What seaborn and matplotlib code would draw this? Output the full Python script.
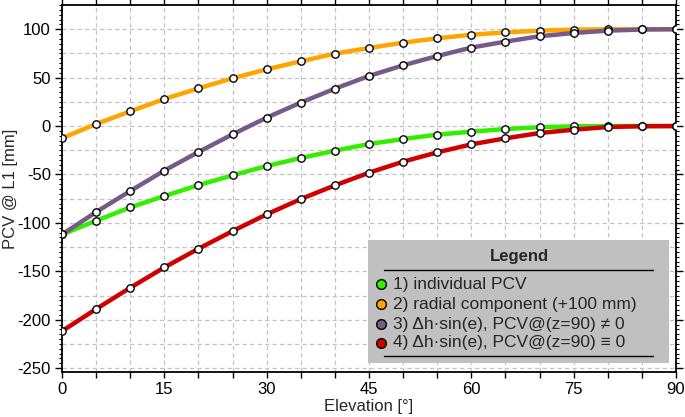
import numpy as np
import pandas as pd
import matplotlib
matplotlib.use("Agg")
import matplotlib.pyplot as plt
import seaborn as sns
from matplotlib.ticker import MultipleLocator
from matplotlib.patches import Rectangle
from matplotlib.lines import Line2D

# ---- data ----
elevation = [0, 5, 10, 15, 20, 25, 30, 35, 40, 45, 50, 55, 60, 65, 70, 75, 80, 85, 90]
pcv_individual = [-112, -97.8, -84, -72.3, -61, -50.9, -41.3, -33, -25.4, -18.6,
                  -13.4, -8.9, -5.8, -3.1, -1.2, -0.3, 0, 0, 0]
radial_component = [-12.5, 2.1, 15.2, 27.9, 38.9, 49.3, 58.6, 66.8, 74.8, 80.6,
                    86.1, 90.6, 94.3, 96.7, 98.5, 99.6, 99.9, 100, 100]
dh_sin_nonzero = [-112, -88.8, -67.1, -46, -26.8, -8.6, 8.7, 24.2, 38.6, 51.7,
                  62.7, 72.3, 81, 87.2, 92.7, 96.1, 98.5, 99.7, 100]
dh_sin_zero = [-211.8, -189, -167, -146, -126.7, -108.5, -91.2, -75.4, -61.3, -48.2,
               -36.8, -27.2, -18.9, -12.7, -7.2, -3.8, -1, -0.2, 0]

series_labels = ["1) individual PCV",
                 "2) radial component (+100 mm)",
                 "3) \u0394h\u00b7sin(e), PCV@(z=90) \u2260 0",
                 "4) \u0394h\u00b7sin(e), PCV@(z=90) \u2261 0"]
series_colors = ["#33ee00", "#ffa500", "#785a88", "#d00000"]

df = pd.concat([
    pd.DataFrame({"elev": elevation, "pcv": vals, "series": lab})
    for vals, lab in zip([pcv_individual, radial_component, dh_sin_nonzero, dh_sin_zero],
                         series_labels)
], ignore_index=True)

sns.set_theme(style="white")
plt.rcParams["font.family"] = ["Liberation Sans", "DejaVu Sans"]
plt.rcParams["axes.unicode_minus"] = False

W, H = 685, 417
fig = plt.figure(figsize=(W / 100, H / 100), dpi=100)
L, R, T, B = 62, 676, 5, 372
ax = fig.add_axes([L / W, 1 - B / H, (R - L) / W, (B - T) / H])

xmin, xmax, ymin, ymax = 0, 90, -254, 125
ax.set_xlim(xmin, xmax)
ax.set_ylim(ymin, ymax)

# grid
gcol = "#c4c4c4"
for gx in np.arange(5, 90, 5):
    ax.axvline(gx, color=gcol, lw=0.9, ls=(0, (3.5, 2.5)), zorder=0)
for gy in np.arange(-250, 125, 25):
    ax.axhline(gy, color=gcol, lw=0.9, ls=(0, (3.5, 2.5)), zorder=0)

pal = dict(zip(series_labels, series_colors))
sns.lineplot(data=df, x="elev", y="pcv", hue="series", hue_order=series_labels,
             palette=pal, lw=3.2, legend=False, ax=ax, zorder=2,
             solid_capstyle="butt", sort=False)
sns.scatterplot(data=df, x="elev", y="pcv", color="white", edgecolor="black",
                linewidth=1.0, s=28, legend=False, ax=ax, zorder=3)

ax.set_xlabel("Elevation [\u00b0]", fontsize=12, labelpad=2)
ax.set_ylabel("PCV @ L1 [mm]", fontsize=12)
ax.yaxis.set_label_coords((10 - L) / (R - L), 0.5)
ax.yaxis.label.set_verticalalignment("center")

ax.xaxis.set_major_locator(MultipleLocator(15))
ax.xaxis.set_minor_locator(MultipleLocator(5))
ax.yaxis.set_major_locator(MultipleLocator(50))
ax.yaxis.set_minor_locator(MultipleLocator(5))
ax.tick_params(axis="both", which="both", direction="out", colors="black",
               top=True, right=True, bottom=True, left=True,
               labeltop=False, labelright=False, labelsize=12)
ax.tick_params(axis="x", which="major", length=4, width=1.0, pad=3)
ax.tick_params(axis="x", which="minor", length=4, width=1.0)
ax.tick_params(axis="y", which="major", length=5, width=1.0, pad=3)
ax.tick_params(axis="y", which="minor", length=2.5, width=0.8)
for sp in ax.spines.values():
    sp.set_color("black")
    sp.set_linewidth(1.3)

# ---- legend box (manual) ----
def ax_x(px):
    return (px - L) / (R - L)

def ax_y(py):
    return (B - py) / (B - T)

bx0, bx1, by0, by1 = 368, 669, 240, 363
ax.add_patch(Rectangle((ax_x(bx0), ax_y(by1)), ax_x(bx1) - ax_x(bx0), ax_y(by0) - ax_y(by1),
                       transform=ax.transAxes, facecolor="#c0c0c0", edgecolor="none",
                       zorder=5, clip_on=False))
ax.text(ax_x(519), ax_y(256), "Legend", transform=ax.transAxes, ha="center", va="center",
        fontsize=12, fontweight="bold", zorder=6)
for ly in (270, 356):
    ax.add_line(Line2D([ax_x(384), ax_x(653)], [ax_y(ly), ax_y(ly)], transform=ax.transAxes,
                       color="black", lw=1.0, zorder=6))
for lab, col, py in zip(series_labels, series_colors, [284.3, 304, 324, 342.7]):
    ax.plot([ax_x(380.7)], [ax_y(py)], transform=ax.transAxes, marker="o", ms=7,
            mfc=col, mec="black", mew=1.0, ls="none", zorder=6, clip_on=False)
    ax.text(ax_x(393), ax_y(py), lab, transform=ax.transAxes, ha="left", va="center",
            fontsize=12.5, zorder=6)

fig.savefig("out.png", dpi=100)
